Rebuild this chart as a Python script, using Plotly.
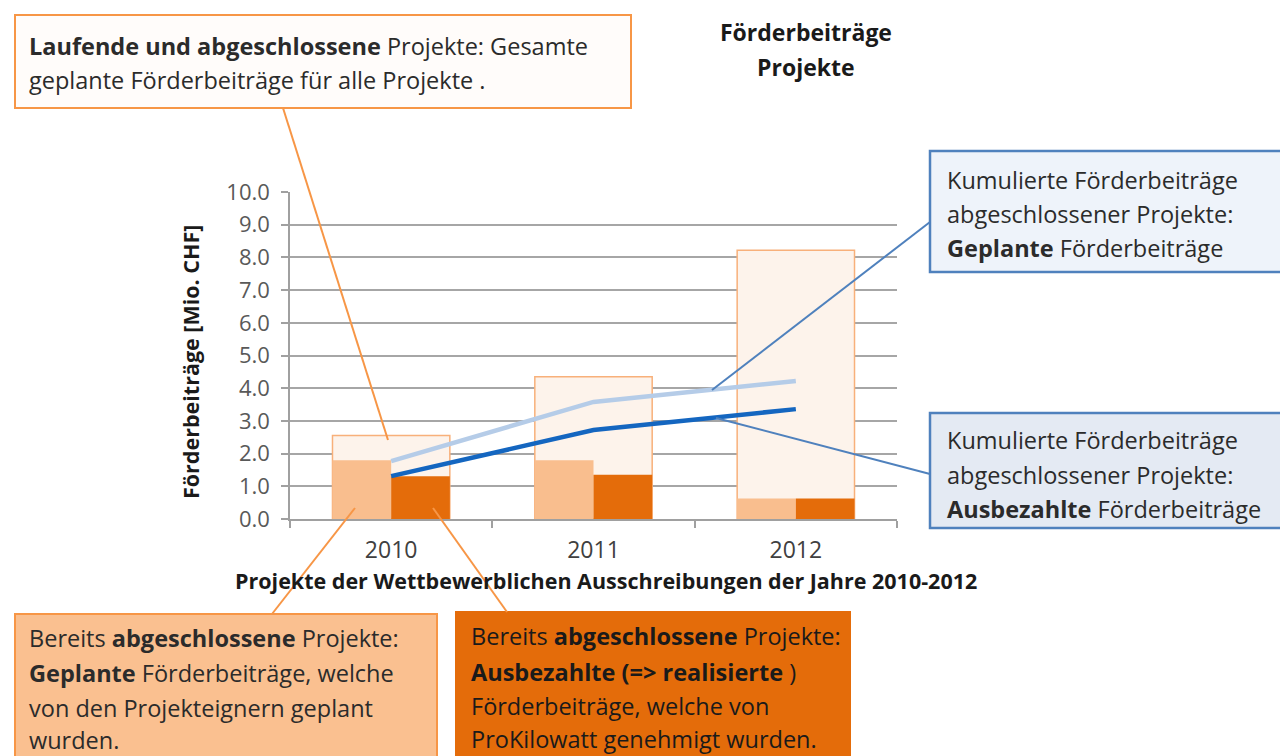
import plotly.graph_objects as go

# =====================================================
# DATA
# =====================================================
years = ["2010", "2011", "2012"]
total_planned = [2.55, 4.35, 8.22]      # laufende + abgeschlossene, geplant
closed_planned = [1.80, 1.80, 0.63]     # abgeschlossen, geplant
closed_paid = [1.31, 1.35, 0.63]        # abgeschlossen, ausbezahlt
cum_planned = [1.77, 3.58, 4.22]        # kumuliert geplant
cum_paid = [1.31, 2.72, 3.36]           # kumuliert ausbezahlt

y_ticks = [0, 1, 2, 3, 4, 5, 6, 7, 8, 9, 10]

# =====================================================
# LAYOUT HELPERS (reference pixel -> paper)
# =====================================================
OFF = 8                      # page body margin
W, H = 1288 - OFF, 756 - OFF
L, R, T, B = 290, 897, 192, 519


def px(x):
    return (x - L) / (R - L)


def py(y):
    return (B - y) / (B - T)


FONT = "'Open Sans', sans-serif"
ORANGE = "#F79646"
BLUE = "#4F81BD"
BOX_SIZE = 23.5

fig = go.Figure()

fig.add_trace(go.Bar(
    x=years, y=total_planned, width=0.58, offset=-0.29,
    marker=dict(color="#FDF3EB", line=dict(color="#F8B07A", width=1.5)),
    name="Gesamt geplant",
))
fig.add_trace(go.Bar(
    x=years, y=closed_planned, width=0.29, offset=-0.29,
    marker=dict(color="#F9BE8E", line=dict(width=0)),
    name="Abgeschlossen geplant",
))
fig.add_trace(go.Bar(
    x=years, y=closed_paid, width=0.29, offset=0,
    marker=dict(color="#E46C0A", line=dict(width=0)),
    name="Abgeschlossen ausbezahlt",
))
fig.add_trace(go.Scatter(
    x=years, y=cum_planned, mode="lines",
    line=dict(color="#B5CCE8", width=4.5),
    name="Kumuliert geplant",
))
fig.add_trace(go.Scatter(
    x=years, y=cum_paid, mode="lines",
    line=dict(color="#1466C0", width=4.5),
    name="Kumuliert ausbezahlt",
))

# -------------------------------------------------
# Boxes and callout lines
# -------------------------------------------------
shapes = []


def box(x0, y0, x1, y1, fill, border, bw=2):
    shapes.append(dict(
        type="rect", xref="paper", yref="paper",
        x0=px(x0), x1=px(x1), y0=py(y1), y1=py(y0),
        fillcolor=fill, line=dict(color=border, width=bw),
    ))


def seg(x0, y0, x1, y1, color):
    shapes.append(dict(
        type="line", xref="paper", yref="paper",
        x0=px(x0), x1=px(x1), y0=py(y0), y1=py(y1),
        line=dict(color=color, width=2),
    ))


box(15, 15, 631, 108, "#FFFCFA", ORANGE)
box(930, 151, 1310, 272, "#EEF3FA", BLUE, 2.5)
box(930, 413, 1310, 528, "#E4EAF3", BLUE, 2.5)
box(15, 614, 437, 780, "#FAC090", ORANGE)
box(456, 612, 850, 780, "#E46C0A", "#E46C0A")

seg(283, 108, 388, 440, ORANGE)
seg(930, 222, 712, 390, BLUE)
seg(930, 474, 716, 418, BLUE)
seg(272, 614, 355, 508, ORANGE)
seg(433, 508, 507, 612, ORANGE)

# -------------------------------------------------
# Texts
# -------------------------------------------------
annotations = []


def txt(x, y, text, size=BOX_SIZE, color="#2B2B2B", anchor="left"):
    annotations.append(dict(
        x=px(x), y=py(y), xref="paper", yref="paper",
        text=text, showarrow=False, xanchor=anchor, yanchor="middle",
        font=dict(family=FONT, size=size, color=color),
    ))


txt(806, 32, "<b>Förderbeiträge</b>", 23, "#1A1A1A", "center")
txt(806, 67, "<b>Projekte</b>", 23, "#1A1A1A", "center")

txt(27, 46, "<b>Laufende und abgeschlossene</b> Projekte: Gesamte")
txt(27, 80, "geplante Förderbeiträge für alle Projekte .")

txt(945, 180, "Kumulierte Förderbeiträge")
txt(945, 214, "abgeschlossener Projekte:")
txt(945, 248, "<b>Geplante</b> Förderbeiträge")

txt(945, 440, "Kumulierte Förderbeiträge")
txt(945, 475, "abgeschlossener Projekte:")
txt(945, 509, "<b>Ausbezahlte</b> Förderbeiträge")

txt(27, 638, "Bereits <b>abgeschlossene</b> Projekte:")
txt(27, 673, "<b>Geplante</b> Förderbeiträge, welche")
txt(27, 708, "von den Projekteignern geplant")
txt(27, 740, "wurden.")

txt(469, 636, "Bereits <b>abgeschlossene</b> Projekte:", color="#1A1A1A")
txt(469, 672, "<b>Ausbezahlte (=&gt; realisierte </b>)", color="#1A1A1A")
txt(469, 706, "Förderbeiträge, welche von", color="#1A1A1A")
txt(469, 739, "ProKilowatt genehmigt wurden.", color="#1A1A1A")

# axis titles
txt(606, 580, "<b>Projekte der Wettbewerblichen Ausschreibungen der Jahre 2010-2012</b>",
    21.5, "#1A1A1A", "center")
annotations.append(dict(
    x=px(190), y=py(362), xref="paper", yref="paper",
    text="<b>Förderbeiträge [Mio. CHF]</b>", showarrow=False, textangle=-90,
    xanchor="center", yanchor="middle",
    font=dict(family=FONT, size=21.5, color="#1A1A1A"),
))

fig.update_layout(
    width=W, height=H,
    margin=dict(l=L - OFF, r=W - (R - OFF), t=T - OFF, b=H - (B - OFF)),
    paper_bgcolor="white", plot_bgcolor="white",
    barmode="overlay", showlegend=False,
    font=dict(family=FONT),
    shapes=shapes, annotations=annotations,
    xaxis=dict(
        type="category", tickson="boundaries", ticks="outside", ticklen=7,
        tickcolor="#A0A0A0", tickwidth=1.5,
        showline=True, linecolor="#A0A0A0", linewidth=1.5,
        showgrid=False, range=[-0.5, 2.5], ticklabelstandoff=10,
        tickfont=dict(family=FONT, size=23, color="#404040"),
    ),
    yaxis=dict(
        range=[0, 10], tickvals=y_ticks, tickformat=".1f",
        ticks="outside", ticklen=7, tickcolor="#A0A0A0", tickwidth=1.5,
        showline=True, linecolor="#A0A0A0", linewidth=1.5,
        showgrid=True, gridcolor="#A6A6A6", gridwidth=1.5, zeroline=False,
        ticklabelstandoff=7,
        tickfont=dict(family=FONT, size=22, color="#595959"),
    ),
)

fig.write_html("out.html")
